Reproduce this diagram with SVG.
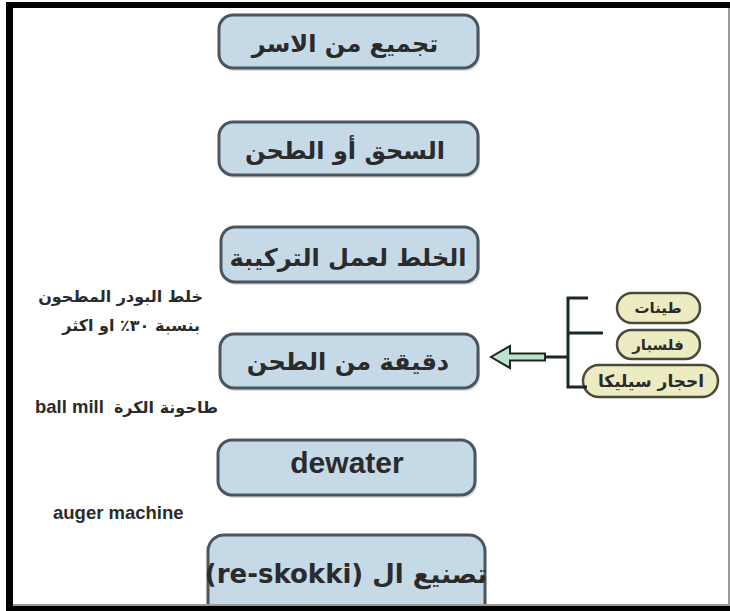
<svg xmlns="http://www.w3.org/2000/svg" width="730" height="611" viewBox="0 0 730 611">
<style>
.box{fill:#c6d9e7;stroke:#4b5560;stroke-width:3}
.shadow{fill:#9aa3aa;opacity:0.35}
.pill{fill:#ecebc2;stroke:#4a4a3a;stroke-width:2.5}
.ar{font-family:"DejaVu Sans",sans-serif;font-weight:bold;fill:#2b2b2b}
.en{font-family:"Liberation Sans",Arial,sans-serif;font-weight:bold;fill:#2b2b2b}
.bk{stroke:#1a2a22;stroke-width:3;fill:none}
</style>
<rect x="0" y="0" width="730" height="611" fill="#ffffff"/>
<g id="n1">
<rect class="shadow" x="221" y="18" width="259" height="53" rx="14"/>
<rect class="box" x="219" y="15" width="259" height="53" rx="14"/>
<text class="ar" x="345" y="52" font-size="24" text-anchor="middle">تجميع من الاسر</text>
</g>
<g id="n2">
<rect class="shadow" x="221" y="125" width="259" height="53" rx="14"/>
<rect class="box" x="219" y="122" width="259" height="53" rx="14"/>
<text class="ar" x="345" y="159" font-size="24" text-anchor="middle">السحق أو الطحن</text>
</g>
<g id="n3">
<rect class="shadow" x="223" y="230" width="257" height="55" rx="14"/>
<rect class="box" x="221" y="227" width="257" height="55" rx="14"/>
<text class="ar" x="348" y="266" font-size="24" text-anchor="middle">الخلط لعمل التركيبة</text>
</g>
<g id="n4">
<rect class="shadow" x="222" y="337" width="258" height="54" rx="14"/>
<rect class="box" x="220" y="334" width="258" height="54" rx="14"/>
<text class="ar" x="348" y="370" font-size="24" text-anchor="middle">دقيقة من الطحن</text>
</g>
<g id="n5">
<rect class="shadow" x="220" y="443" width="257" height="55" rx="14"/>
<rect class="box" x="218" y="440" width="257" height="55" rx="14"/>
<text class="en" x="347" y="473" font-size="30" text-anchor="middle" fill="#404040">dewater</text>
</g>
<g id="n6">
<rect class="box" x="208" y="535" width="277" height="85" rx="16"/>
<text class="ar" x="346" y="583" font-size="26" text-anchor="middle">(re-skokki)  تصنيع ال</text>
</g>
<g id="labels">
<text class="ar" x="203" y="302" font-size="16" text-anchor="end">خلط البودر المطحون</text>
<text class="ar" x="200" y="331" font-size="16" text-anchor="end">بنسبة ٣٠٪ او اكثر</text>
<text class="en" x="35" y="413" font-size="18.5">ball mill</text>
<text class="ar" x="218" y="413" font-size="16" text-anchor="end">طاحونة الكرة</text>
<text class="en" x="53" y="519" font-size="18.5">auger machine</text>
</g>
<g id="materials">
<g id="m1">
<rect class="pill" x="617" y="293" width="83" height="30" rx="15"/>
<text class="ar" x="658" y="313" font-size="15" text-anchor="middle">طينات</text>
</g>
<g id="m2">
<rect class="pill" x="617" y="330" width="83" height="29" rx="14.5"/>
<text class="ar" x="658" y="350" font-size="15" text-anchor="middle">فلسبار</text>
</g>
<g id="m3">
<rect class="pill" x="583" y="365" width="135" height="32" rx="16"/>
<text class="ar" x="651" y="387" font-size="17" text-anchor="middle">احجار سيليكا</text>
</g>
</g>
<g id="connectors">
<path class="bk" d="M588,298 H568 V387 H587 M568,333 H603 M568,357 H545"/>
<path d="M545,353.5 H510 V346 L491,357 L510,368 V360.5 H545 Z" fill="#bde3cc" stroke="#1a2a22" stroke-width="2"/>
</g>
<g id="frame">
<rect x="6" y="2" width="724" height="6" fill="#000"/>
<rect x="6" y="2" width="7" height="609" fill="#000"/>
<rect x="6" y="606" width="724" height="5" fill="#000"/>
<rect x="13" y="604" width="717" height="2" fill="#9a9a9a"/>
<rect x="728" y="8" width="2" height="598" fill="#9a9a9a"/>
</g>
</svg>
